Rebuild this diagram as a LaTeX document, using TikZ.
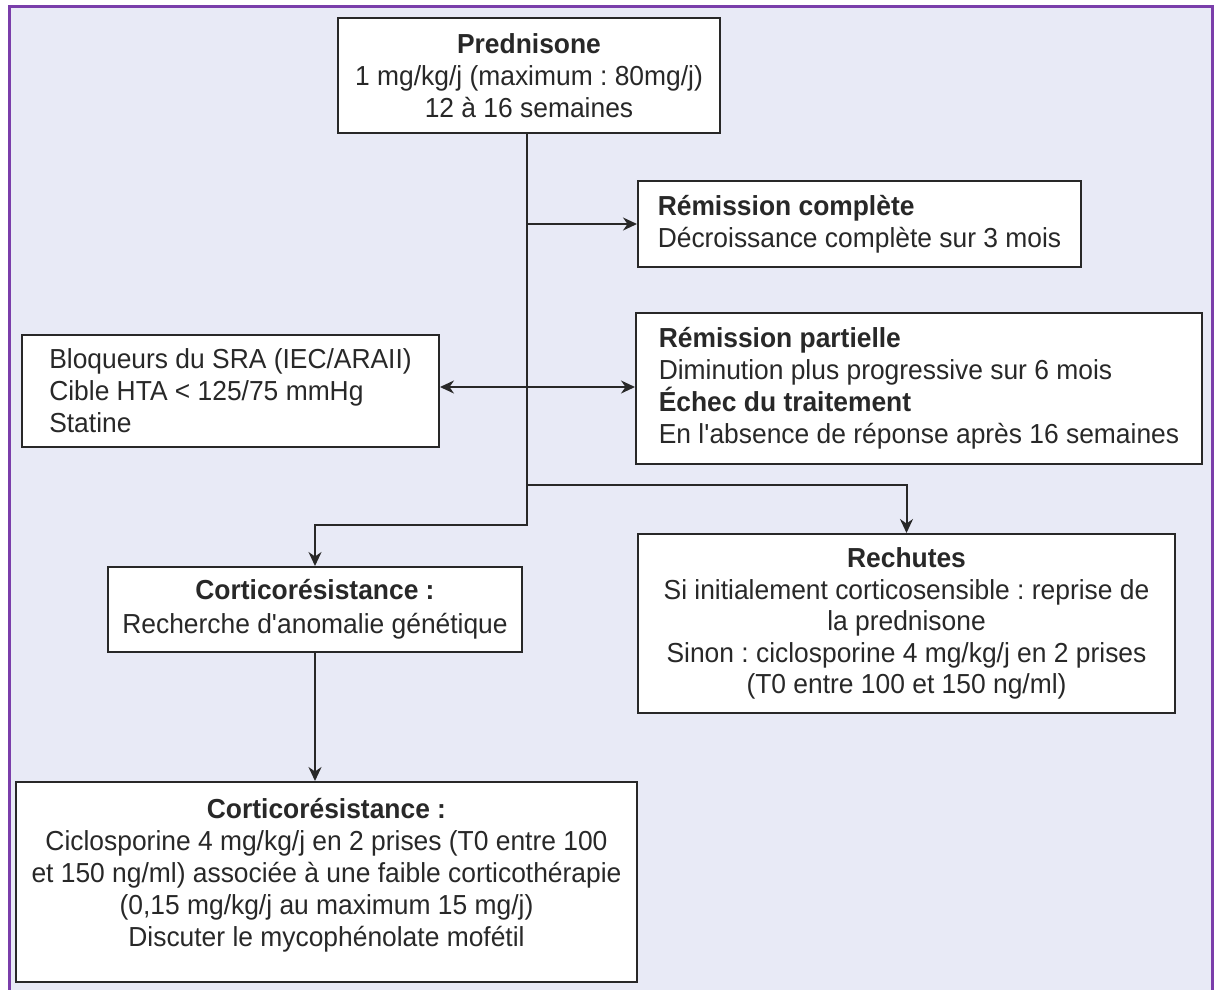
\documentclass[tikz,border=0pt]{standalone}
\usepackage{fontspec}
\setmainfont[FakeStretch=0.96]{Liberation Sans}
\usetikzlibrary{arrows.meta}

\definecolor{fond}{RGB}{232,234,246}
\definecolor{cadre}{RGB}{122,62,170}
\definecolor{trait}{RGB}{40,40,40}

\tikzset{
  boite/.style={draw=trait, fill=white, line width=2pt, inner sep=0pt, text=trait,
    font=\frenchspacing\fontsize{27.5}{32}\selectfont},
  pointe/.tip={Stealth[length=14pt, width=13pt, inset=4.5pt]},
  lien/.style={draw=trait, line width=2pt, -pointe},
}

\begin{document}
\begin{tikzpicture}[x=1pt, y=-1pt]
  \useasboundingbox (0,0) rectangle (1218,989);
  \fill[white] (0,0) rectangle (1218,989);
  \filldraw[fill=fond, draw=cadre, line width=3pt] (9.5,6.5) rectangle (1212,1000);

  % boites
  \node[boite, minimum width=382pt, minimum height=115pt, align=center]
    (pred) at (529,75.5) {\textbf{Prednisone}\\1 mg/kg/j (maximum : 80mg/j)\\12 à 16 semaines};
  \node[boite, minimum width=443pt, minimum height=86pt, align=left]
    (rc) at (859.5,224) {\textbf{Rémission complète}\\Décroissance complète sur 3 mois};
  \node[boite, minimum width=566pt, minimum height=151pt, align=left]
    (rp) at (919,388.5) {\textbf{Rémission partielle}\\Diminution plus progressive sur 6 mois\\
      \textbf{Échec du traitement}\\En l\textquotesingle absence de réponse après 16 semaines};
  \node[boite, minimum width=417pt, minimum height=112pt, align=left]
    (bloq) at (230.5,390.5) {Bloqueurs du SRA (IEC/ARAII)\\Cible HTA < 125/75 mmHg\\Statine};
  \node[boite, minimum width=414pt, minimum height=85pt, align=center,
    font=\frenchspacing\fontsize{27.5}{34}\selectfont]
    (cr1) at (315,609.5) {\textbf{Corticorésistance :}\\Recherche d\textquotesingle anomalie génétique};
  \node[boite, minimum width=621pt, minimum height=200pt, align=center]
    (cr2) at (326.5,882) {\textbf{Corticorésistance :}\\Ciclosporine 4 mg/kg/j en 2 prises (T0 entre 100\\
      et 150 ng/ml) associée à une faible corticothérapie\\(0,15 mg/kg/j au maximum 15 mg/j)\\
      Discuter le mycophénolate mofétil\rule[-20pt]{0pt}{0pt}};
  \node[boite, minimum width=537pt, minimum height=179pt, align=center,
    font=\frenchspacing\fontsize{27.5}{31.5}\selectfont]
    (rech) at (906.5,623.5) {\textbf{Rechutes}\\Si initialement corticosensible : reprise de\\la prednisone\\
      Sinon : ciclosporine 4 mg/kg/j en 2 prises\\(T0 entre 100 et 150 ng/ml)};

  % embranchements sur le tronc
  \coordinate (j1) at (527,224);
  \coordinate (j2) at (527,387);
  \coordinate (j3) at (527,485);
  \coordinate (j4) at (527,525);

  \draw[lien] (pred.south -| j1) -- (j4) -| (cr1.north);
  \draw[lien] (j1) -- (rc.west |- j1);
  \draw[draw=trait, line width=2pt, pointe-pointe] (bloq.east |- j2) -- (rp.west |- j2);
  \draw[lien] (j3) -| (rech.north);
  \draw[lien] (cr1.south) -- (cr1.south |- cr2.north);
\end{tikzpicture}
\end{document}
